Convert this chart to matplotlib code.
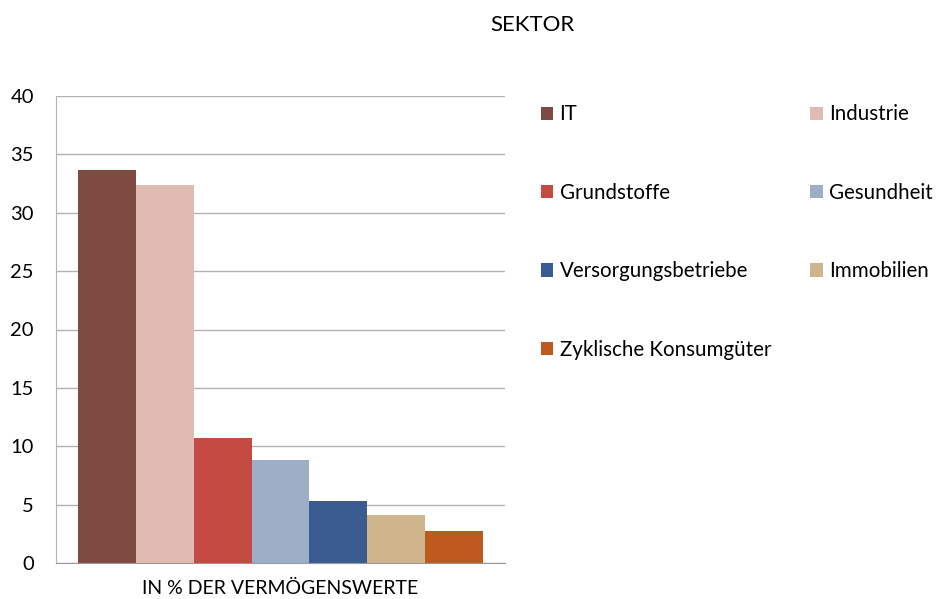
import numpy as np
import matplotlib.pyplot as plt

sectors = ["IT", "Industrie", "Grundstoffe", "Gesundheit",
           "Versorgungsbetriebe", "Immobilien", "Zyklische Konsumgüter"]
values = [33.7, 32.4, 10.7, 8.8, 5.3, 4.1, 2.7]
colors = ["#7F4A41", "#E0BBB2", "#C44A42", "#9DAFC6",
          "#395B8F", "#CEB58C", "#BE5A1F"]

plt.rcParams['font.family'] = ['Lato', 'DejaVu Sans']

fig = plt.figure(figsize=(9.36, 5.99), dpi=100)
ax = fig.add_axes([56/936, 1-563/599, (505-56)/936, (563-96)/599])

x = np.arange(len(sectors))
bars = []
for i in range(len(sectors)):
    b = ax.bar(x[i], values[i], width=1.0, color=colors[i], label=sectors[i])
    bars.append(b)

ax.set_xlim(-0.88, 6.88)
ax.set_ylim(0, 40)
ax.set_yticks(range(0, 41, 5))
ax.set_xticks([])
ax.yaxis.grid(True, color="#B3B3B3", linewidth=1)
ax.set_axisbelow(True)
for s in ["top", "right"]:
    ax.spines[s].set_visible(False)
ax.spines["left"].set_color("#B3B3B3")
ax.spines["bottom"].set_color("#999999")
ax.tick_params(axis="y", length=0, labelsize=14.5, pad=16)
ax.set_xlabel("IN % DER VERMÖGENSWERTE", fontsize=14, labelpad=12)

# legend: matplotlib fills columns, so reorder to get row-wise reading
order = [0, 2, 4, 6, 1, 3, 5]
handles = [bars[i] for i in order]
labels = [sectors[i] for i in order]
fig.legend(handles, labels, ncol=2, loc="upper left",
           bbox_to_anchor=(522/936, 1-86/599), frameon=False,
           fontsize=14.8, handlelength=0.63, handleheight=0.63,
           handletextpad=0.3, labelspacing=2.84, columnspacing=1.9)

fig.text(532/936, 1-25/599, "SEKTOR", ha="center", va="center", fontsize=16)

fig.savefig("out.png", dpi=100)
